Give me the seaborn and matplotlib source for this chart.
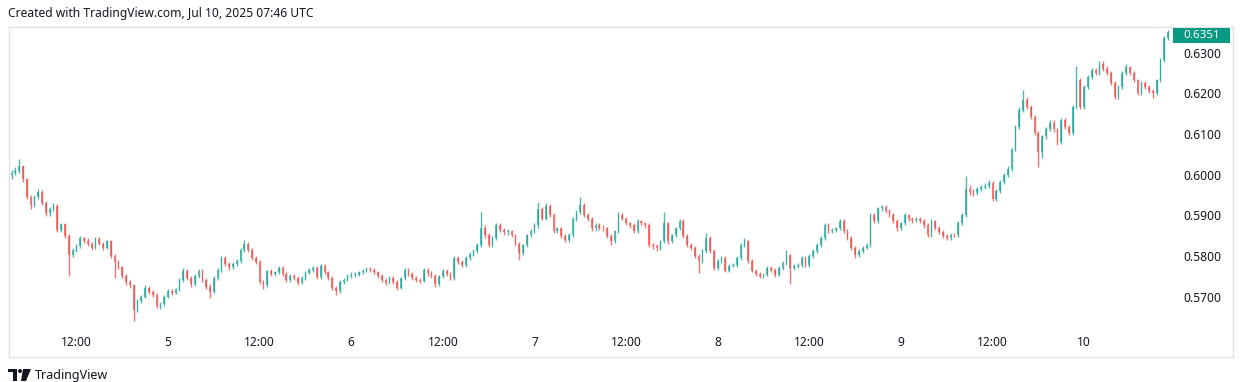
import matplotlib
matplotlib.use("Agg")
import matplotlib.pyplot as plt
import matplotlib.patches as mpatches
import numpy as np
import pandas as pd
import seaborn as sns

# 30-minute candles, prices in 1/10000 units
start_time = "2025-07-04 03:30"
first_open = 5998

close_pips = [
    6005, 6010, 6020, 5988, 5945, 5925, 5945, 5958, 5930, 5905,
    5915, 5924, 5865, 5878, 5850, 5802, 5815, 5825, 5843, 5838,
    5830, 5820, 5842, 5830, 5820, 5836, 5800, 5785, 5772, 5750,
    5735, 5728, 5668, 5690, 5700, 5722, 5712, 5705, 5678, 5682,
    5700, 5715, 5710, 5718, 5740, 5764, 5745, 5730, 5750, 5764,
    5740, 5725, 5712, 5745, 5765, 5795, 5780, 5772, 5780, 5788,
    5815, 5830, 5815, 5795, 5785, 5735, 5728, 5762, 5755, 5760,
    5771, 5755, 5740, 5752, 5745, 5734, 5745, 5759, 5765, 5771,
    5748, 5776, 5760, 5747, 5722, 5715, 5735, 5742, 5750, 5754,
    5754, 5760, 5764, 5768, 5766, 5760, 5751, 5740, 5734, 5747,
    5735, 5722, 5745, 5766, 5755, 5747, 5742, 5739, 5766, 5758,
    5751, 5730, 5750, 5764, 5755, 5747, 5795, 5785, 5778, 5795,
    5805, 5812, 5827, 5870, 5851, 5827, 5844, 5875, 5863, 5858,
    5861, 5851, 5830, 5807, 5827, 5851, 5861, 5875, 5915, 5892,
    5924, 5900, 5861, 5868, 5850, 5839, 5851, 5892, 5909, 5925,
    5900, 5892, 5868, 5875, 5870, 5868, 5850, 5836, 5861, 5900,
    5892, 5880, 5875, 5861, 5885, 5880, 5875, 5827, 5825, 5819,
    5836, 5880, 5836, 5851, 5868, 5885, 5850, 5827, 5819, 5800,
    5788, 5812, 5844, 5812, 5771, 5788, 5795, 5764, 5776, 5778,
    5795, 5827, 5836, 5788, 5764, 5755, 5751, 5754, 5771, 5765,
    5754, 5771, 5783, 5802, 5771, 5775, 5778, 5795, 5778, 5800,
    5812, 5827, 5844, 5875, 5861, 5865, 5868, 5885, 5861, 5844,
    5819, 5802, 5812, 5820, 5827, 5900, 5885, 5917, 5921, 5910,
    5900, 5885, 5868, 5880, 5900, 5892, 5888, 5892, 5885, 5875,
    5851, 5885, 5870, 5860, 5850, 5845, 5852, 5851, 5880, 5900,
    5965, 5958, 5955, 5965, 5970, 5972, 5980, 5941, 5960, 5982,
    6000, 6014, 6062, 6118, 6159, 6183, 6166, 6142, 6103, 6055,
    6094, 6111, 6128, 6111, 6079, 6135, 6118, 6103, 6166, 6232,
    6166, 6215, 6239, 6256, 6249, 6273, 6260, 6249, 6225, 6191,
    6215, 6249, 6264, 6249, 6232, 6200, 6225, 6215, 6205, 6200,
    6232, 6281, 6336, 6351,
]

high_pips = [
    6012, 6018, 6038, 6024, 5992, 5950, 5950, 5965, 5962, 5935,
    5920, 5930, 5928, 5882, 5882, 5855, 5820, 5830, 5848, 5847,
    5845, 5834, 5846, 5847, 5835, 5840, 5840, 5805, 5790, 5776,
    5755, 5742, 5732, 5695, 5705, 5728, 5726, 5716, 5708, 5688,
    5705, 5720, 5719, 5722, 5745, 5770, 5768, 5750, 5755, 5768,
    5768, 5745, 5730, 5750, 5770, 5800, 5800, 5785, 5785, 5792,
    5820, 5840, 5835, 5820, 5800, 5790, 5740, 5766, 5768, 5764,
    5776, 5775, 5760, 5756, 5756, 5750, 5750, 5764, 5770, 5775,
    5775, 5780, 5780, 5764, 5750, 5726, 5740, 5746, 5755, 5760,
    5760, 5764, 5768, 5774, 5772, 5770, 5764, 5755, 5745, 5750,
    5750, 5740, 5748, 5770, 5770, 5760, 5752, 5746, 5770, 5770,
    5762, 5755, 5754, 5768, 5768, 5760, 5800, 5800, 5790, 5800,
    5810, 5818, 5832, 5909, 5875, 5856, 5848, 5880, 5880, 5868,
    5866, 5865, 5855, 5834, 5830, 5855, 5866, 5880, 5933, 5920,
    5930, 5928, 5905, 5872, 5872, 5855, 5856, 5896, 5913, 5946,
    5930, 5905, 5896, 5880, 5880, 5875, 5872, 5855, 5865, 5909,
    5905, 5896, 5884, 5880, 5890, 5889, 5884, 5880, 5832, 5830,
    5840, 5909, 5884, 5855, 5872, 5890, 5890, 5855, 5832, 5824,
    5805, 5816, 5856, 5848, 5816, 5792, 5800, 5800, 5780, 5782,
    5800, 5832, 5844, 5840, 5792, 5768, 5760, 5758, 5775, 5775,
    5770, 5775, 5788, 5815, 5806, 5780, 5782, 5800, 5800, 5804,
    5816, 5832, 5848, 5880, 5880, 5870, 5872, 5890, 5890, 5866,
    5848, 5824, 5816, 5825, 5832, 5905, 5905, 5920, 5926, 5925,
    5915, 5905, 5890, 5884, 5905, 5904, 5896, 5896, 5896, 5890,
    5880, 5890, 5888, 5874, 5865, 5855, 5856, 5856, 5885, 5905,
    5997, 5975, 5964, 5970, 5975, 5980, 5986, 5984, 5965, 5986,
    6004, 6020, 6066, 6122, 6165, 6208, 6190, 6170, 6146, 6108,
    6098, 6116, 6134, 6134, 6115, 6140, 6140, 6123, 6170, 6268,
    6238, 6220, 6244, 6262, 6262, 6280, 6278, 6266, 6254, 6230,
    6220, 6254, 6272, 6268, 6254, 6236, 6230, 6230, 6220, 6210,
    6236, 6286, 6340, 6356,
]

low_pips = [
    5990, 5998, 6005, 5982, 5940, 5915, 5920, 5940, 5925, 5898,
    5898, 5910, 5860, 5860, 5845, 5750, 5798, 5810, 5820, 5832,
    5825, 5815, 5816, 5826, 5815, 5816, 5795, 5745, 5768, 5745,
    5728, 5722, 5640, 5662, 5685, 5696, 5706, 5700, 5672, 5670,
    5678, 5696, 5705, 5706, 5714, 5736, 5740, 5725, 5726, 5746,
    5735, 5720, 5698, 5708, 5740, 5760, 5775, 5766, 5768, 5776,
    5784, 5810, 5810, 5790, 5780, 5730, 5718, 5724, 5750, 5750,
    5756, 5750, 5735, 5736, 5740, 5728, 5730, 5740, 5755, 5760,
    5744, 5744, 5755, 5742, 5716, 5705, 5710, 5730, 5738, 5746,
    5748, 5750, 5756, 5760, 5760, 5755, 5746, 5735, 5728, 5730,
    5730, 5716, 5718, 5740, 5750, 5742, 5736, 5733, 5735, 5752,
    5745, 5725, 5726, 5745, 5750, 5742, 5742, 5780, 5772, 5774,
    5790, 5800, 5808, 5822, 5845, 5822, 5822, 5840, 5858, 5852,
    5852, 5846, 5825, 5790, 5802, 5822, 5846, 5856, 5870, 5888,
    5888, 5895, 5856, 5856, 5845, 5834, 5834, 5846, 5886, 5904,
    5895, 5886, 5862, 5862, 5865, 5862, 5845, 5826, 5832, 5856,
    5888, 5875, 5870, 5856, 5857, 5875, 5870, 5822, 5818, 5812,
    5815, 5832, 5830, 5832, 5846, 5864, 5845, 5822, 5815, 5795,
    5759, 5784, 5808, 5808, 5766, 5766, 5784, 5760, 5760, 5772,
    5774, 5790, 5822, 5784, 5760, 5750, 5745, 5746, 5750, 5760,
    5748, 5750, 5766, 5778, 5730, 5766, 5770, 5774, 5774, 5774,
    5796, 5808, 5822, 5840, 5856, 5856, 5860, 5864, 5856, 5840,
    5814, 5796, 5798, 5808, 5816, 5822, 5880, 5880, 5910, 5905,
    5895, 5880, 5862, 5864, 5876, 5886, 5882, 5884, 5880, 5870,
    5846, 5846, 5865, 5855, 5845, 5840, 5840, 5846, 5846, 5876,
    5895, 5950, 5948, 5950, 5960, 5965, 5968, 5936, 5936, 5955,
    5978, 5995, 6010, 6058, 6112, 6155, 6160, 6136, 6098, 6018,
    6040, 6088, 6106, 6105, 6072, 6074, 6112, 6098, 6098, 6160,
    6160, 6160, 6210, 6234, 6244, 6244, 6255, 6244, 6220, 6185,
    6186, 6210, 6244, 6244, 6228, 6195, 6196, 6210, 6200, 6188,
    6196, 6228, 6276, 6330,
]

price_ticks = [0.5700, 0.5800, 0.5900, 0.6000, 0.6100, 0.6200, 0.6300]
title_text = "Created with TradingView.com, Jul 10, 2025 07:46 UTC"

up_color = "#26a69a"
down_color = "#ef5350"
text_color = "#131722"

df = pd.DataFrame({"close": close_pips, "high": high_pips, "low": low_pips}) / 10000
df["open"] = df["close"].shift(1).fillna(first_open / 10000)
df["time"] = pd.date_range(start_time, periods=len(df), freq="30min")
df["idx"] = np.arange(len(df))

sns.set_theme(style="white")
plt.rcParams["font.family"] = ["Noto Sans", "DejaVu Sans"]

W, H = 1244, 382
fig = plt.figure(figsize=(W / 100, H / 100), dpi=100)
fig.patch.set_facecolor("white")

def px(x, y):
    return x / W, 1 - y / H

ax_l, ax_t, ax_r, ax_b = 9, 27, 1233, 357
ax = fig.add_axes([ax_l / W, 1 - ax_b / H, (ax_r - ax_l) / W, (ax_b - ax_t) / H])

up = df["close"] >= df["open"]
colors = np.where(up, up_color, down_color)
body_low = df[["open", "close"]].min(axis=1)
body_h = (df["close"] - df["open"]).abs().clip(lower=0.00012)

ax.vlines(df["idx"], df["low"], df["high"], colors=colors, linewidth=1, alpha=0.8)
ax.bar(df["idx"], body_h, bottom=body_low, width=0.45, color=colors,
       linewidth=0, alpha=0.75)

ax.set_xlim(-0.655, 320.0)
ax.set_ylim(0.55518, 0.63627)

# x ticks every 12 hours, day number at midnight
mask = (df["time"].dt.minute == 0) & (df["time"].dt.hour % 12 == 0)
tick_df = df[mask]
ax.set_xticks(tick_df["idx"])
ax.set_xticklabels(["12:00" if t.hour == 12 else str(t.day) for t in tick_df["time"]])
for lab in ax.get_xticklabels():
    if lab.get_text() != "12:00":
        lab.set_fontweight("bold")
ax.tick_params(axis="x", length=0, pad=-15, labelsize=8.6, colors=text_color)

ax.yaxis.tick_right()
ax.set_yticks(price_ticks)
ax.set_yticklabels([f"{v:.4f}" for v in price_ticks])
ax.tick_params(axis="y", length=0, pad=-36, labelsize=8.7, colors=text_color)

for s in ax.spines.values():
    s.set_color("#e0e3eb")
    s.set_linewidth(1)
ax.grid(False)

# last price label
last = df["close"].iloc[-1]
ax.add_patch(mpatches.Rectangle((0.951, 0.9515), 0.0466, 0.0455, transform=ax.transAxes,
                                facecolor="#089981", edgecolor="none", clip_on=False, zorder=5))
ax.text(0.951 + 0.0233, 0.9515 + 0.0228, f"{last:.4f}", transform=ax.transAxes,
        ha="center", va="center", color="white", fontsize=8.4, fontweight="bold", zorder=6)

# header and footer
fig.text(*px(8, 14), title_text, fontsize=8.7, color=text_color, va="center", ha="left")
fig.text(*px(35, 375), "TradingView", fontsize=9.0, color=text_color, va="center", ha="left")

# TradingView logo
fig.patches.append(mpatches.Rectangle(px(8, 372), 9 / W, 3 / H, transform=fig.transFigure,
                                      facecolor=text_color, edgecolor="none"))
fig.patches.append(mpatches.Rectangle(px(13, 381), 4 / W, 12 / H, transform=fig.transFigure,
                                      facecolor=text_color, edgecolor="none"))
fig.patches.append(mpatches.Ellipse(px(20, 371), 4 / W, 4 / H, transform=fig.transFigure,
                                    facecolor=text_color, edgecolor="none"))
fig.patches.append(mpatches.Polygon([px(23, 369), px(31, 369), px(26, 381), px(21, 381)],
                                    closed=True, transform=fig.transFigure,
                                    facecolor=text_color, edgecolor="none"))

fig.savefig("out.png", dpi=100, facecolor="white")
